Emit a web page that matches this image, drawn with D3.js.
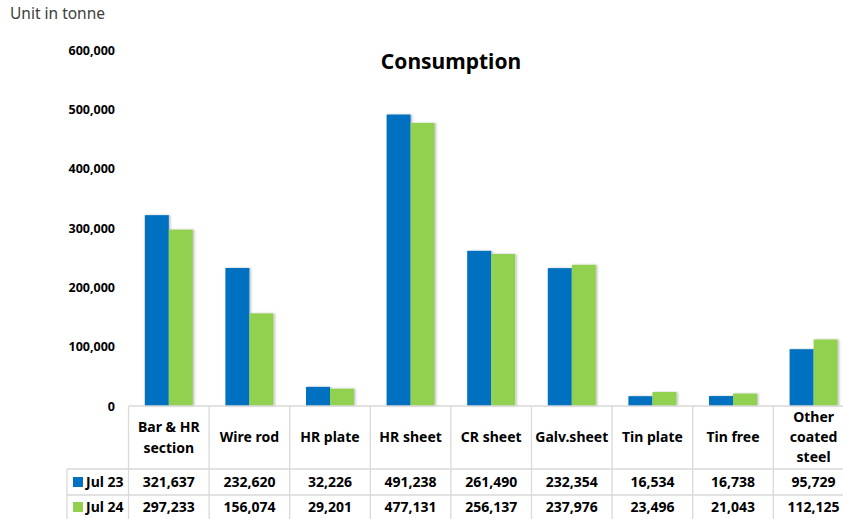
<!DOCTYPE html>
<html>
<head>
<meta charset="utf-8">
<script src="https://cdn.jsdelivr.net/npm/d3@7"></script>
<style>
  html, body { margin: 0; padding: 0; background: #fff; }
  svg { display: block; font-family: "Noto Sans", "Open Sans", sans-serif; }
</style>
</head>
<body>
<svg id="chart" width="843" height="519"></svg>
<script>
const categories = [
  ["Bar & HR", "section"], ["Wire rod"], ["HR plate"], ["HR sheet"], ["CR sheet"],
  ["Galv.sheet"], ["Tin plate"], ["Tin free"], ["Other", "coated", "steel"]
];
const seriesNames = ["Jul 23", "Jul 24"];
const jul23 = [321637, 232620, 32226, 491238, 261490, 232354, 16534, 16738, 95729];
const jul24 = [297233, 156074, 29201, 477131, 256137, 237976, 23496, 21043, 112125];
const yTicks = [0, 100000, 200000, 300000, 400000, 500000, 600000];
const colors = ["#0070C0", "#92D050"];

const svg = d3.select("#chart");
const catKeys = categories.map(c => c.join(" "));
const values = [jul23, jul24];

const tableLeft = 128.5, colW = 80.6;
const x = d3.scaleBand().domain(catKeys).range([tableLeft, tableLeft + colW * catKeys.length]).padding(0);
const xs = d3.scaleBand().domain(seriesNames).range([0, 48]).padding(0);
const y = d3.scaleLinear().domain([0, 600000]).range([406, 50]);

const defs = svg.append("defs");
const f = defs.append("filter").attr("id", "sh").attr("x", "-20%").attr("y", "-5%").attr("width", "150%").attr("height", "110%");
f.append("feDropShadow").attr("dx", 1.5).attr("dy", 0).attr("stdDeviation", 1).attr("flood-color", "#000").attr("flood-opacity", 0.25);

// Unit label
svg.append("text").attr("x", 10).attr("y", 19).attr("font-size", 15.5).attr("fill", "#404040").text("Unit in tonne");

// Title
svg.append("text").attr("x", 451).attr("y", 69).attr("text-anchor", "middle")
  .attr("font-size", 21).attr("font-weight", "bold").attr("fill", "#000").text("Consumption");

// Y axis
const yAxis = d3.axisLeft(y).tickValues(yTicks).tickFormat(d3.format(",")).tickSize(0).tickPadding(0);
const gy = svg.append("g").attr("transform", "translate(115,0)").call(yAxis);
gy.select(".domain").remove();
gy.selectAll("text").attr("font-size", 12.5).attr("font-weight", "bold").attr("fill", "#000")
  .attr("font-family", "'Noto Sans', sans-serif");

// Bars
seriesNames.forEach((s, si) => {
  svg.append("g").selectAll("rect").data(values[si]).join("rect")
    .attr("x", (d, i) => x(catKeys[i]) + x.bandwidth() / 2 - 24 + xs(s))
    .attr("y", d => y(d))
    .attr("width", xs.bandwidth())
    .attr("height", d => y(0) - y(d))
    .attr("fill", colors[si])
    .attr("filter", "url(#sh)");
});

// Table
const lineColor = "#d9d9d9";
const tTop = 406, r1 = 469, r2 = 495, tBot = 521;
const tableRight = tableLeft + colW * catKeys.length;
const tg = svg.append("g").attr("stroke", lineColor).attr("stroke-width", 1.3);
tg.append("line").attr("x1", tableLeft).attr("x2", tableRight).attr("y1", tTop).attr("y2", tTop);
[r1, r2, tBot].forEach(yy => tg.append("line").attr("x1", 67).attr("x2", tableRight).attr("y1", yy).attr("y2", yy));
tg.append("line").attr("x1", 67).attr("x2", 67).attr("y1", r1).attr("y2", tBot);
d3.range(catKeys.length + 1).forEach(i => {
  const xx = tableLeft + colW * i;
  tg.append("line").attr("x1", xx).attr("x2", xx).attr("y1", tTop).attr("y2", tBot);
});

// Category labels
const hg = svg.append("g").attr("font-size", 14).attr("font-weight", "bold").attr("fill", "#000").attr("text-anchor", "middle");
categories.forEach((lines, i) => {
  const cx = x(catKeys[i]) + x.bandwidth() / 2;
  const lh = lines.length === 3 ? 20 : 21;
  const mid = (tTop + r1) / 2;
  lines.forEach((ln, k) => {
    hg.append("text").attr("x", cx).attr("y", mid + (k - (lines.length - 1) / 2) * lh)
      .attr("dy", "0.35em").text(ln);
  });
});

// Values rows
const fmt = d3.format(",");
const rowsY = [(r1 + r2) / 2, (r2 + tBot) / 2 - 1];
seriesNames.forEach((s, si) => {
  const g = svg.append("g").attr("font-size", 14).attr("font-weight", "bold").attr("fill", "#000");
  g.append("rect").attr("x", 73).attr("y", rowsY[si] - 5).attr("width", 10).attr("height", 10).attr("fill", colors[si]);
  g.append("text").attr("x", 86).attr("y", rowsY[si]).attr("dy", "0.35em").text(s);
  g.selectAll("text.v").data(values[si]).join("text").attr("class", "v")
    .attr("x", (d, i) => x(catKeys[i]) + x.bandwidth() / 2)
    .attr("y", rowsY[si]).attr("dy", "0.35em").attr("text-anchor", "middle")
    .text(d => fmt(d));
});
</script>
</body>
</html>
